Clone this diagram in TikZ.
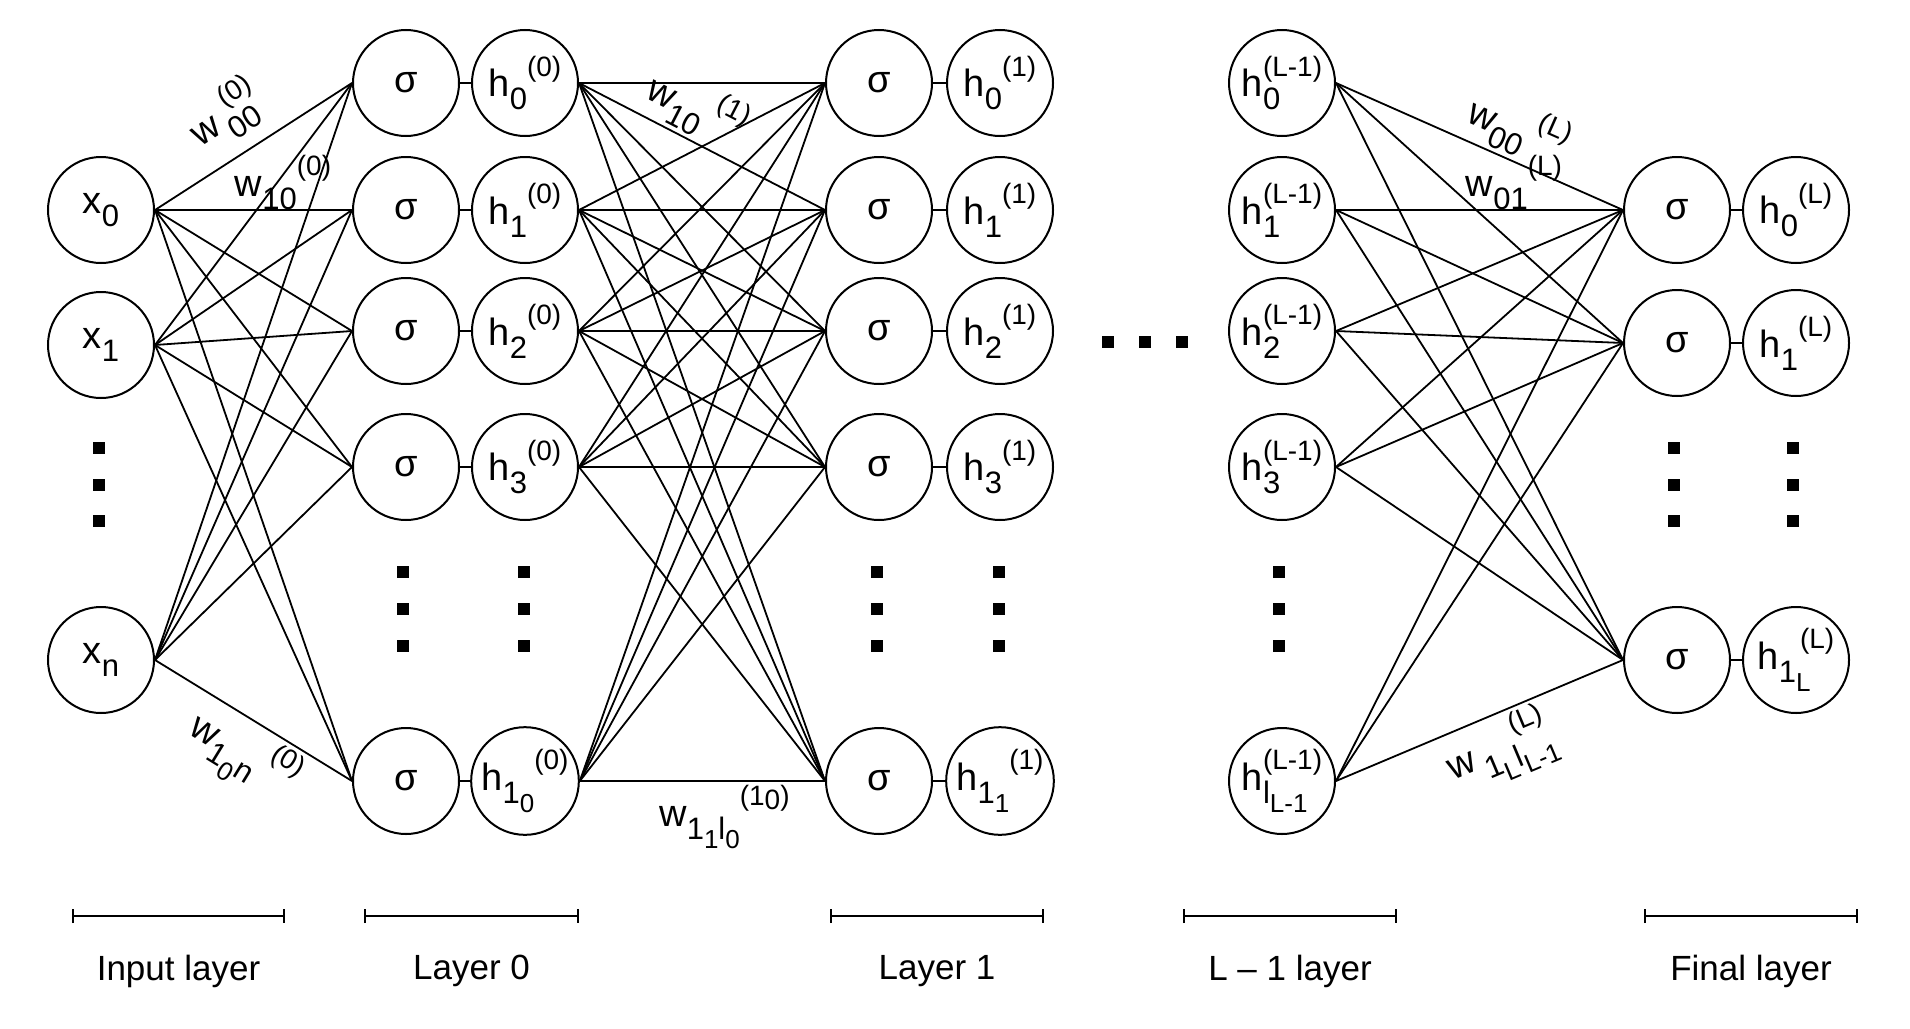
\documentclass[tikz,border=0pt]{standalone}
\usepackage{fontspec}
\setmainfont{Liberation Sans}
\usetikzlibrary{arrows.meta}
\newcommand{\subi}[1]{\raisebox{-0.34em}{\fontsize{15.5}{15.5}\selectfont #1}}
\newcommand{\subii}[1]{\raisebox{-0.3em}{\fontsize{13}{13}\selectfont #1}}
\newcommand{\supi}[1]{\raisebox{0.55em}{\fontsize{14}{14}\selectfont #1}}
\newcommand{\subsup}[2]{\rlap{\subi{#1}}\supi{#2}}
\begin{document}
\begin{tikzpicture}[x=0.5pt, y=-0.5pt,
  neuron/.style={draw, circle, line width=1pt, minimum size=53pt, inner sep=0pt, font=\fontsize{19}{22}\selectfont},
  edge/.style={line width=0.9pt},
  wlbl/.style={inner sep=2pt, font=\fontsize{19}{22}\selectfont},
  lyr/.style={font=\fontsize{17.5}{20}\selectfont},
  span/.style={line width=1pt, {Bar[width=7pt]}-{Bar[width=7pt]}}]
\useasboundingbox (0,0) rectangle (1910,1028);
\node[neuron] (in0) at (101,210) {x\subi{0}};
\node[neuron] (in1) at (101,345) {x\subi{1}};
\node[neuron] (inn) at (101,660) {x\subi{n}};
\foreach \j/\y in {0/83,1/210,2/331,3/467,l/781} {
  \node[neuron] (sa\j) at (406,\y) {σ};
  \node[neuron] (sb\j) at (879,\y) {σ};
}
\node[neuron] (ha0) at (525,83) {h\subi{0}\supi{(0)}};
\node[neuron] (ha1) at (525,210) {h\subi{1}\supi{(0)}};
\node[neuron] (ha2) at (525,331) {h\subi{2}\supi{(0)}};
\node[neuron] (ha3) at (525,467) {h\subi{3}\supi{(0)}};
\node[neuron] (hal) at (525,781) {h\subi{1\subii{0}}\supi{(0)}};
\node[neuron] (hb0) at (1000,83) {h\subi{0}\supi{(1)}};
\node[neuron] (hb1) at (1000,210) {h\subi{1}\supi{(1)}};
\node[neuron] (hb2) at (1000,331) {h\subi{2}\supi{(1)}};
\node[neuron] (hb3) at (1000,467) {h\subi{3}\supi{(1)}};
\node[neuron] (hbl) at (1000,781) {h\subi{1\subii{1}}\supi{(1)}};
\node[neuron] (hc0) at (1282,83) {h\subsup{0}{(L-1)}};
\node[neuron] (hc1) at (1282,210) {h\subsup{1}{(L-1)}};
\node[neuron] (hc2) at (1282,331) {h\subsup{2}{(L-1)}};
\node[neuron] (hc3) at (1282,467) {h\subsup{3}{(L-1)}};
\node[neuron] (hcl) at (1282,781) {h\subsup{l\subii{L-1}}{(L-1)}};
\node[neuron] (sf0) at (1677,210) {σ};
\node[neuron] (sf1) at (1677,343) {σ};
\node[neuron] (sfl) at (1677,660) {σ};
\node[neuron] (hf0) at (1796,210) {h\subi{0}\supi{(L)}};
\node[neuron] (hf1) at (1796,343) {h\subi{1}\supi{(L)}};
\node[neuron] (hfl) at (1796,660) {h\subi{1\rlap{\subii{L}}}\kern2pt\supi{(L)}};
\foreach \i in {in0,in1,inn}
  \foreach \j in {0,1,2,3,l}
    \draw[edge] (\i.east) -- (sa\j.west);
\foreach \i in {0,1,2,3,l}
  \foreach \j in {0,1,2,3,l}
    \draw[edge] (ha\i.east) -- (sb\j.west);
\foreach \i in {0,1,2,3,l}
  \foreach \j in {0,1,l}
    \draw[edge] (hc\i.east) -- (sf\j.west);
\foreach \j in {0,1,2,3,l} {
  \draw[edge] (sa\j) -- (ha\j);
  \draw[edge] (sb\j) -- (hb\j);
}
\foreach \j in {0,1,l}
  \draw[edge] (sf\j) -- (hf\j);
\path (in0.east) -- node[wlbl, sloped, above=5pt, pos=0.47] (w1) {w\,\subsup{00}{\kern4pt(0)}} (sa0.west);
\path (in0.east) -- node[wlbl, above, inner sep=0pt, pos=0.65] (w2) {w\subi{10}\supi{(0)}} (sa1.west);
\path (inn.east) -- node[wlbl, sloped, below, pos=0.54] (w3) {w\subi{1\subii{0}n}\,\supi{(0)}} (sal.west);
\path (ha0.east) -- node[wlbl, sloped, above, pos=0.42] (w4) {w\subi{10}\,\supi{(1)}} (sb1.west);
\path (hal.east) -- node[wlbl, below, pos=0.59] (w5) {w\subi{1\subii{1}l\subii{0}}\supi{(1\raisebox{-0.15em}{0})}} (sbl.west);
\path (hc0.east) -- node[wlbl, sloped, above, pos=0.59] (w6) {w\subi{00}\,\supi{(L)}} (sf0.west);
\path (hc1.east) -- node[wlbl, above, inner sep=0pt, pos=0.62] (w7) {w\subi{01}\supi{(L)}} (sf0.west);
\path (hcl.east) -- node[wlbl, sloped, below, pos=0.52] (w8) {w\,\subi{1\subii{L}l\rlap{\subii{L-1}}}\supi{(L)}} (sfl.west);
\foreach \x in {1108,1145,1182}
  \fill (\x-6,336) rectangle (\x+6,348);
\foreach \x in {99,1674,1793}
  \foreach \y in {448,485,521}
    \fill (\x-6,\y-6) rectangle (\x+6,\y+6);
\foreach \x in {403,524,877,999,1279}
  \foreach \y in {572,609,646}
    \fill (\x-6,\y-6) rectangle (\x+6,\y+6);
\foreach \a/\b/\t [count=\k] in {72/285/Input layer, 364/579/Layer 0, 830/1044/Layer 1, 1183/1397/L -- 1 layer, 1644/1858/Final layer} {
  \draw[span] (\a,916) -- (\b,916);
  \node[lyr] (lyr\k) at ({(\a+\b)/2},971) {\t};
}
\end{tikzpicture}
\end{document}
